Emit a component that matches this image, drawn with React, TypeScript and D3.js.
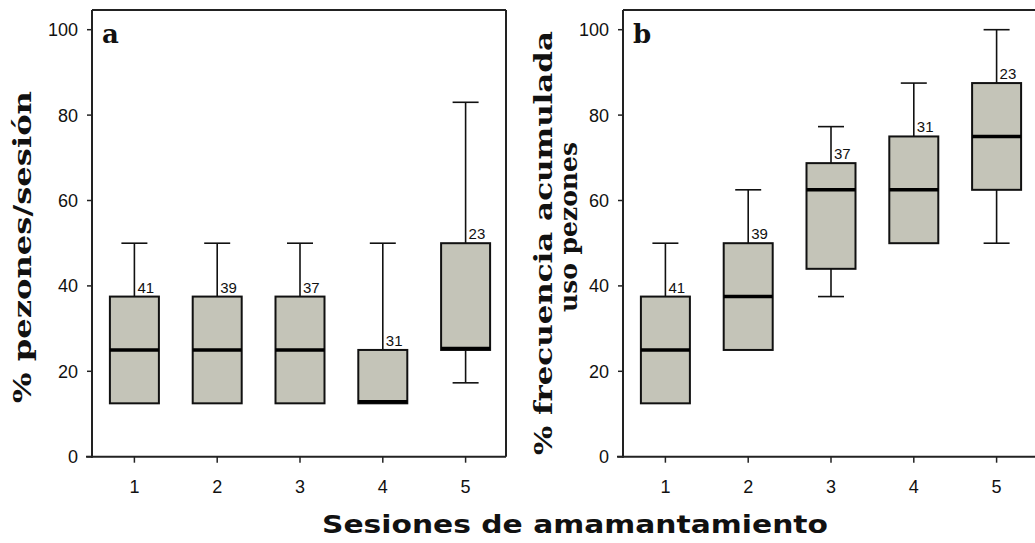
import React from 'react';
import * as d3 from 'd3';

const width = 1035;
const height = 543;

const sessions = ['1', '2', '3', '4', '5'];
const nLabels = ['41', '39', '37', '31', '23'];
const yTicks = [0, 20, 40, 60, 80, 100];

// panel a: % pezones/sesión
const aMin = [12.5, 12.5, 12.5, 12.5, 17.3];
const aQ1 = [12.5, 12.5, 12.5, 12.5, 25];
const aMedian = [25, 25, 25, 12.5, 25];
const aQ3 = [37.5, 37.5, 37.5, 25, 50];
const aMax = [50, 50, 50, 50, 83];

// panel b: % frecuencia acumulada uso pezones
const bMin = [12.5, 25, 37.5, 50, 50];
const bQ1 = [12.5, 25, 44, 50, 62.5];
const bMedian = [25, 37.5, 62.5, 62.5, 75];
const bQ3 = [37.5, 50, 68.75, 75, 87.5];
const bMax = [50, 62.5, 77.3, 87.5, 100];

const boxFill = '#c4c4b8';
const tickFont = '"Liberation Sans", Arial, sans-serif';
const serifFont = '"DejaVu Serif", "Liberation Serif", serif';

const yScale = d3.scaleLinear().domain([0, 100]).range([456.7, 29.7]);

function Panel({ x0, x1, letter, mins, q1s, medians, q3s, maxs }) {
    const xScale = d3.scaleBand().domain(sessions).range([x0 + 1, x1 + 1]);
    const boxW = 49;
    const capW = 26;
    const top = 10;
    const bottom = yScale(0);

    return (
        <g>
            {/* frame */}
            <line x1={x0} x2={x1} y1={top} y2={top} stroke="#222" strokeWidth={2} />
            <line x1={x1} x2={x1} y1={top} y2={bottom} stroke="#222" strokeWidth={2} />
            <line x1={x0} x2={x0} y1={top} y2={bottom + 1} stroke="#222" strokeWidth={2} />
            <line x1={x0 - 6} x2={x1} y1={bottom} y2={bottom} stroke="#222" strokeWidth={2} />

            {yTicks.map(t => (
                <g key={t}>
                    <line x1={x0 - 5} x2={x0} y1={yScale(t)} y2={yScale(t)} stroke="#222" strokeWidth={1.5} />
                    <text x={x0 - 14} y={yScale(t)} dy="0.36em" textAnchor="end"
                        fontFamily={tickFont} fontSize={18} fill="#111">{t}</text>
                </g>
            ))}

            {sessions.map(s => {
                const cx = xScale(s) + xScale.bandwidth() / 2;
                return (
                    <g key={s}>
                        <line x1={cx} x2={cx} y1={bottom} y2={bottom + 6} stroke="#222" strokeWidth={1.5} />
                        <text x={cx} y={493} textAnchor="middle" fontFamily={tickFont} fontSize={18} fill="#111">{s}</text>
                    </g>
                );
            })}

            {sessions.map((s, i) => {
                const cx = xScale(s) + xScale.bandwidth() / 2;
                const yQ1 = yScale(q1s[i]);
                const yQ3 = yScale(q3s[i]);
                return (
                    <g key={'box' + s}>
                        <line x1={cx} x2={cx} y1={yScale(maxs[i])} y2={yQ3} stroke="#111" strokeWidth={1.6} />
                        <line x1={cx - capW / 2} x2={cx + capW / 2} y1={yScale(maxs[i])} y2={yScale(maxs[i])} stroke="#111" strokeWidth={1.6} />
                        {mins[i] < q1s[i] && (
                            <g>
                                <line x1={cx} x2={cx} y1={yQ1} y2={yScale(mins[i])} stroke="#111" strokeWidth={1.6} />
                                <line x1={cx - capW / 2} x2={cx + capW / 2} y1={yScale(mins[i])} y2={yScale(mins[i])} stroke="#111" strokeWidth={1.6} />
                            </g>
                        )}
                        <rect x={cx - boxW / 2} y={yQ3} width={boxW} height={yQ1 - yQ3}
                            fill={boxFill} stroke="#111" strokeWidth={2} />
                        <line x1={cx - boxW / 2} x2={cx + boxW / 2}
                            y1={Math.min(yScale(medians[i]), yQ1 - 1.5)} y2={Math.min(yScale(medians[i]), yQ1 - 1.5)}
                            stroke="#000" strokeWidth={3.5} />
                        <text x={cx + 3} y={yQ3 - 4} fontFamily={tickFont} fontSize={15} fill="#111">{nLabels[i]}</text>
                    </g>
                );
            })}

            <text x={x0 + 10} y={43} fontFamily={serifFont} fontWeight="bold" fontSize={26} fill="#111">{letter}</text>
        </g>
    );
}

export default function App() {
    return (
        <svg width={width} height={height} style={{ position: 'absolute', left: 0, top: 0, background: '#fff' }}>
            <rect width={width} height={height} fill="#fff" />
            <Panel x0={92} x1={506} letter="a" mins={aMin} q1s={aQ1} medians={aMedian} q3s={aQ3} maxs={aMax} />
            <Panel x0={623} x1={1037} letter="b" mins={bMin} q1s={bQ1} medians={bMedian} q3s={bQ3} maxs={bMax} />

            <text transform="translate(31, 247) rotate(-90)" textAnchor="middle" fontFamily={serifFont}
                fontWeight="bold" fontSize={25} textLength={312} lengthAdjust="spacingAndGlyphs" fill="#111">% pezones/sesión</text>
            <text transform="translate(552, 243) rotate(-90)" textAnchor="middle" fontFamily={serifFont}
                fontWeight="bold" fontSize={25} textLength={424} lengthAdjust="spacingAndGlyphs" fill="#111">% frecuencia acumulada</text>
            <text transform="translate(577, 227) rotate(-90)" textAnchor="middle" fontFamily={serifFont}
                fontWeight="bold" fontSize={25} textLength={170} lengthAdjust="spacingAndGlyphs" fill="#111">uso pezones</text>

            <text x={575} y={533} textAnchor="middle" fontFamily='"DejaVu Sans", Verdana, sans-serif'
                fontWeight="bold" fontSize={25} textLength={506} lengthAdjust="spacingAndGlyphs" fill="#111">Sesiones de amamantamiento</text>
        </svg>
    );
}
